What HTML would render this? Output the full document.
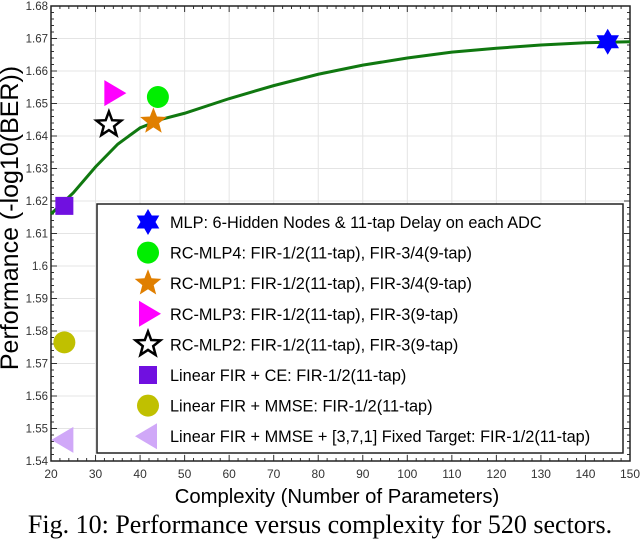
<!DOCTYPE html>
<html><head><meta charset="utf-8"><style>
body{margin:0;background:#fff;width:640px;height:539px;overflow:hidden}
svg text{font-family:"Liberation Sans",sans-serif}
</style></head><body>
<svg id="chart" width="640" height="539"></svg>
<script>
const xTicks=[20,30,40,50,60,70,80,90,100,110,120,130,140,150];
const yTicks=[1.54,1.55,1.56,1.57,1.58,1.59,1.6,1.61,1.62,1.63,1.64,1.65,1.66,1.67,1.68];
const yTickLabels=["1.54","1.55","1.56","1.57","1.58","1.59","1.6","1.61","1.62","1.63","1.64","1.65","1.66","1.67","1.68"];
const curveX=[20,25,30,35,40,45,50,60,70,80,90,100,110,120,130,140,150];
const curveY=[1.616,1.6225,1.6305,1.6375,1.6425,1.6452,1.647,1.6515,1.6555,1.659,1.6618,1.664,1.6658,1.667,1.668,1.6687,1.669];
const pointNames=["MLP: 6-Hidden Nodes & 11-tap Delay on each ADC","RC-MLP4: FIR-1/2(11-tap), FIR-3/4(9-tap)","RC-MLP1: FIR-1/2(11-tap), FIR-3/4(9-tap)","RC-MLP3: FIR-1/2(11-tap), FIR-3(9-tap)","RC-MLP2: FIR-1/2(11-tap), FIR-3(9-tap)","Linear FIR + CE: FIR-1/2(11-tap)","Linear FIR + MMSE: FIR-1/2(11-tap)","Linear FIR + MMSE + [3,7,1] Fixed Target: FIR-1/2(11-tap)"];
const pointX=[145,44,43,34,33,23,23,23];
const pointY=[1.669,1.652,1.6445,1.6532,1.6435,1.6185,1.5765,1.5465];
const shapes=["hex","circle","star","tri-r","star-open","square","circle","tri-l"];
const colors=["#0000ff","#00ee00","#e07f00","#ff00ff","#fff","#7010e0","#c0c000","#d0a8f8"];
const X0=51,X1=630,Y0=461,Y1=6;
const sx=v=>X0+(v-20)/130*(X1-X0);
const sy=v=>Y0-(v-1.54)/0.14*(Y0-Y1);
const NS="http://www.w3.org/2000/svg";
const svg=document.getElementById('chart');
function mk(t,a,p){const e=document.createElementNS(NS,t);for(const k in a)e.setAttribute(k,a[k]);(p||svg).appendChild(e);return e;}
xTicks.forEach(v=>{const l=mk('line',{x1:sx(v),x2:sx(v),y1:Y1,y2:Y0,stroke:'#e4e4e4'});

});
yTicks.forEach(v=>{const l=mk('line',{x1:X0,x2:X1,y1:sy(v),y2:sy(v),stroke:'#e4e4e4'});

});
for(let v=20;v<=150;v+=2){const L=(v%10==0)?6:3;mk('line',{x1:sx(v),x2:sx(v),y1:Y0,y2:Y0-L,stroke:'#333'});mk('line',{x1:sx(v),x2:sx(v),y1:Y1,y2:Y1+L,stroke:'#333'});}
for(let i=0;i<=70;i++){const v=1.54+i*0.002;const L=(i%5==0)?6:3;mk('line',{x1:X0,x2:X0+L,y1:sy(v),y2:sy(v),stroke:'#333'});mk('line',{x1:X1,x2:X1-L,y1:sy(v),y2:sy(v),stroke:'#333'});}
const frame=mk('rect',{x:X0,y:Y1,width:X1-X0,height:Y0-Y1,fill:'none',stroke:'#222','stroke-width':1.5});


xTicks.forEach(v=>{const t=mk('text',{x:sx(v),y:Y0+17,'font-size':12,'text-anchor':'middle',fill:'#333'});t.textContent=v;

});
yTicks.forEach((v,i)=>{const t=mk('text',{x:X0-3,y:sy(v)+4,'font-size':11.5,'text-anchor':'end',fill:'#333'});t.textContent=yTickLabels[i];

});
const xt=mk('text',{x:337,y:503,'font-size':20.3,'text-anchor':'middle'});xt.textContent='Complexity (Number of Parameters)';


const yt=mk('text',{x:0,y:0,'font-size':25,'text-anchor':'middle',transform:'translate(18,218) rotate(-90)'});yt.textContent='Performance (-log10(BER))';


const cap=mk('text',{x:320,y:533,'font-size':26,'text-anchor':'middle',style:'font-family:"Liberation Serif",serif'});cap.textContent='Fig. 10: Performance versus complexity for 520 sectors.';


const cv=mk('path',{d:curveX.map((x,i)=>(i?'L':'M')+sx(x)+','+sy(curveY[i])).join(''),fill:'none',stroke:'#107810','stroke-width':3});


function starPts(cx,cy,R,r,n){let p=[];for(let i=0;i<2*n;i++){const a=-Math.PI/2+i*Math.PI/n;const rr=i%2?r:R;p.push((cx+rr*Math.cos(a)).toFixed(1)+','+(cy+rr*Math.sin(a)).toFixed(1));}return p.join(' ');}
function marker(s,c,x,y){
 if(s=='hex')return mk('polygon',{points:starPts(x,y,13,7.5,6),fill:c});
 if(s=='circle')return mk('circle',{cx:x,cy:y,r:11,fill:c});
 if(s=='star')return mk('polygon',{points:starPts(x,y,14,6,5),fill:c});
 if(s=='star-open')return mk('polygon',{points:starPts(x,y,13,5.5,5),fill:'#fff',stroke:'#000','stroke-width':2.5});
 if(s=='square')return mk('rect',{x:x-9,y:y-9,width:18,height:18,fill:c});
 if(s=='tri-r')return mk('polygon',{points:`${x-9},${y-13} ${x+13},${y} ${x-9},${y+13}`,fill:c});
 if(s=='tri-l')return mk('polygon',{points:`${x+9},${y-13} ${x-13},${y} ${x+9},${y+13}`,fill:c});
}
pointX.forEach((v,i)=>{const m=marker(shapes[i],colors[i],sx(v),sy(pointY[i]));

});
const lg=mk('rect',{x:97,y:204,width:526,height:249,fill:'#fff',stroke:'#222','stroke-width':1.5});


pointNames.forEach((n,i)=>{const y=222+i*30.6;marker(shapes[i],colors[i],148,y);
const t=mk('text',{x:170,y:y+6,'font-size':16.3});t.textContent=n;

});
</script>
</body></html>
